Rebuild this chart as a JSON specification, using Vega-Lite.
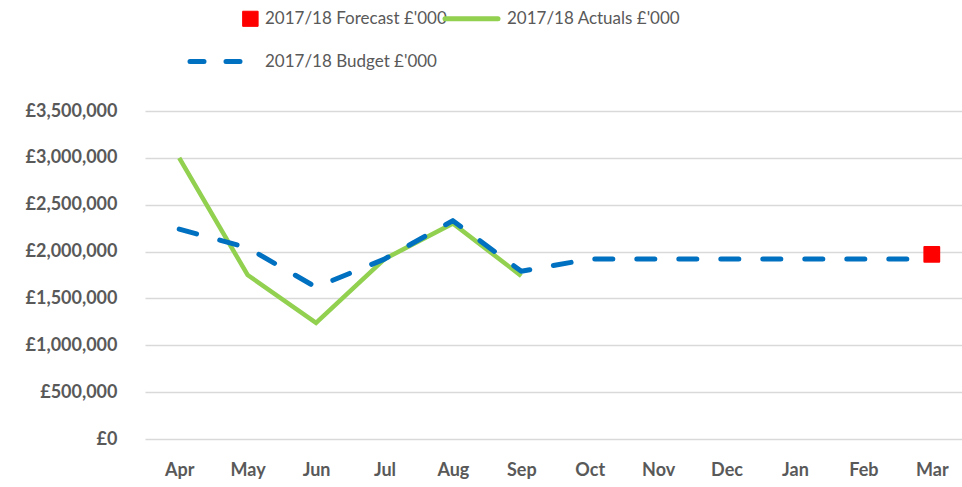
{
  "$schema": "https://vega.github.io/schema/vega-lite/v6.json",
  "autosize": "none",
  "width": 821,
  "height": 328,
  "padding": {"left": 145, "top": 111, "right": 0, "bottom": 48},
  "background": "white",
  "config": {
    "font": "Lato",
    "view": {"stroke": null}
  },
  "data": {
    "values": [
      {"month": "Apr", "series": "2017/18 Budget £'000", "value": 2240000},
      {"month": "May", "series": "2017/18 Budget £'000", "value": 2040000},
      {"month": "Jun", "series": "2017/18 Budget £'000", "value": 1620000},
      {"month": "Jul", "series": "2017/18 Budget £'000", "value": 1920000},
      {"month": "Aug", "series": "2017/18 Budget £'000", "value": 2330000},
      {"month": "Sep", "series": "2017/18 Budget £'000", "value": 1790000},
      {"month": "Oct", "series": "2017/18 Budget £'000", "value": 1920000},
      {"month": "Nov", "series": "2017/18 Budget £'000", "value": 1920000},
      {"month": "Dec", "series": "2017/18 Budget £'000", "value": 1920000},
      {"month": "Jan", "series": "2017/18 Budget £'000", "value": 1920000},
      {"month": "Feb", "series": "2017/18 Budget £'000", "value": 1920000},
      {"month": "Mar", "series": "2017/18 Budget £'000", "value": 1920000},
      {"month": "Apr", "series": "2017/18 Actuals £'000", "value": 3000000},
      {"month": "May", "series": "2017/18 Actuals £'000", "value": 1750000},
      {"month": "Jun", "series": "2017/18 Actuals £'000", "value": 1240000},
      {"month": "Jul", "series": "2017/18 Actuals £'000", "value": 1920000},
      {"month": "Aug", "series": "2017/18 Actuals £'000", "value": 2300000},
      {"month": "Sep", "series": "2017/18 Actuals £'000", "value": 1740000},
      {"month": "Mar", "series": "2017/18 Forecast £'000", "value": 1970000}
    ]
  },
  "encoding": {
    "x": {
      "field": "month", "type": "ordinal",
      "sort": ["Apr","May","Jun","Jul","Aug","Sep","Oct","Nov","Dec","Jan","Feb","Mar"],
      "scale": {"type": "point", "padding": 0.5},
      "axis": {
        "title": null, "labelAngle": 0, "domain": false, "ticks": false,
        "labelFont": "Lato", "labelFontWeight": "bold", "labelFontSize": 18,
        "labelColor": "#595959", "labelPadding": 22
      }
    },
    "y": {
      "field": "value", "type": "quantitative",
      "scale": {"domain": [0, 3500000], "nice": false},
      "axis": {
        "title": null, "values": [0,500000,1000000,1500000,2000000,2500000,3000000,3500000],
        "labelExpr": "'£' + format(datum.value, ',')",
        "domain": false, "ticks": false, "grid": true, "gridColor": "#D9D9D9", "gridWidth": 1.3,
        "labelFont": "Lato", "labelFontWeight": "bold", "labelFontSize": 18,
        "labelColor": "#595959", "labelPadding": 28
      }
    },
    "color": {
      "field": "series", "type": "nominal",
      "scale": {
        "domain": ["2017/18 Forecast £'000", "2017/18 Actuals £'000", "2017/18 Budget £'000"],
        "range": ["#FF0000", "#92D050", "#0070C0"]
      },
      "legend": {
        "title": null, "orient": "none", "legendX": 63, "legendY": -101,
        "direction": "horizontal", "columns": 2, "columnPadding": -5, "rowPadding": 25, "padding": 0,
        "labelFont": "Lato", "labelFontSize": 17, "labelColor": "#595959", "labelLimit": 400,
        "labelOffset": 40, "symbolSize": 2809, "symbolStrokeWidth": 5,
        "encode": {
          "labels": {
            "update": {
              "dx": {"signal": "test(/Actuals/, datum.value) ? -13 : 0"}
            }
          },
          "symbols": {
            "update": {
              "shape": {"signal": "test(/Forecast/, datum.value) ? 'M1.0,-0.28h0.57v0.57h-0.57z' : 'stroke'"},
              "fill": {"signal": "test(/Forecast/, datum.value) ? '#FF0000' : 'transparent'"},
              "stroke": {"signal": "test(/Forecast/, datum.value) ? '#FF0000' : test(/Budget/, datum.value) ? '#0070C0' : '#92D050'"},
              "strokeWidth": {"signal": "test(/Forecast/, datum.value) ? 1 : 5"},
              "strokeDash": {"signal": "test(/Budget/, datum.value) ? [14, 22] : []"},
              "strokeCap": {"value": "round"},
              "strokeJoin": {"value": "round"},
              "opacity": {"value": 1}
            }
          }
        }
      }
    }
  },
  "layer": [
    {
      "transform": [{"filter": "datum.series === \"2017/18 Actuals £'000\""}],
      "mark": {"type": "line", "strokeWidth": 4.5, "strokeJoin": "miter"}
    },
    {
      "transform": [{"filter": "datum.series === \"2017/18 Budget £'000\""}],
      "mark": {"type": "line", "strokeWidth": 5, "strokeDash": [18, 24], "strokeCap": "round", "strokeJoin": "round"}
    },
    {
      "transform": [{"filter": "datum.series === \"2017/18 Forecast £'000\""}],
      "mark": {"type": "point", "shape": "square", "filled": true, "size": 220, "opacity": 1, "strokeWidth": 2, "stroke": "#FF0000", "strokeJoin": "round"}
    }
  ]
}
